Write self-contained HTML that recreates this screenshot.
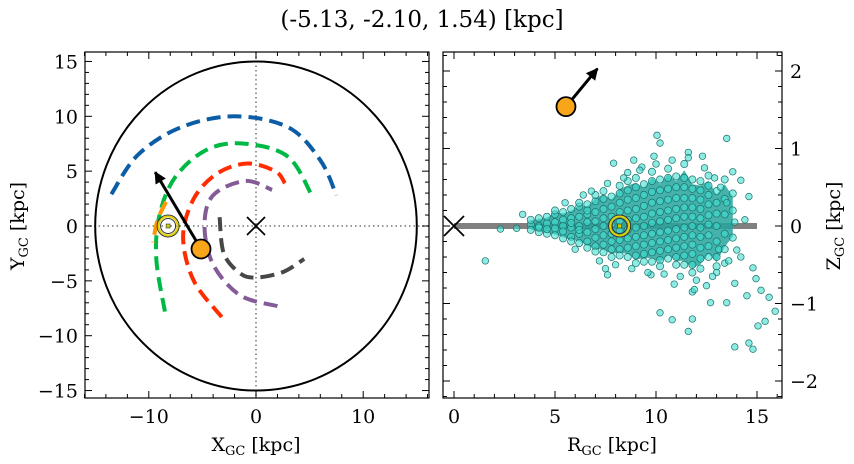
<!DOCTYPE html>
<html><head><meta charset="utf-8">
<style>
html,body{margin:0;padding:0;background:#fff;}
svg{display:block;font-family:"DejaVu Serif","Liberation Serif",serif;}
</style></head>
<body>
<svg id="fig" width="854" height="464" viewBox="0 0 854 464" xmlns="http://www.w3.org/2000/svg">
<text x="422" y="27" font-size="23" text-anchor="middle">(-5.13, -2.10, 1.54) [kpc]</text>
<g id="left"></g>
<g id="right"></g>
<text x="256" y="451" font-size="19" text-anchor="middle">X<tspan font-size="13" dy="4">GC</tspan><tspan dy="-4"> [kpc]</tspan></text>
<text transform="translate(24,226) rotate(-90)" font-size="19" text-anchor="middle">Y<tspan font-size="13" dy="4">GC</tspan><tspan dy="-4"> [kpc]</tspan></text>
<text x="612" y="451" font-size="19" text-anchor="middle">R<tspan font-size="13" dy="4">GC</tspan><tspan dy="-4"> [kpc]</tspan></text>
<text transform="translate(840,226) rotate(-90)" font-size="19" text-anchor="middle">Z<tspan font-size="13" dy="4">GC</tspan><tspan dy="-4"> [kpc]</tspan></text>
</svg>
<script>
// ---- data ----
const blueArcX=[-13.5,-11,-7,-2,3,6,7.5];
const blueArcY=[2.9,6.5,9,10,9,6,2.8];
const greenArcX=[-8.5,-9.3,-9,-7.5,-4.5,-1,3,5.3];
const greenArcY=[-7.8,-3,1,4.5,7,7.5,6.3,2.6];
const redArcX=[-3.2,-5.8,-6.8,-5.8,-3.6,-0.8,1.8,2.7];
const redArcY=[-8.3,-5,-1,2.5,4.8,5.7,5,3.9];
const purpleArcX=[2,-1.5,-4,-4.8,-4,-1,1.5];
const purpleArcY=[-7.3,-6.3,-3.5,0,2.8,4.1,3.3];
const grayArcX=[-3.4,-3,-1.5,0,2.5,4.5];
const grayArcY=[0.8,-2.5,-4.3,-4.7,-4.2,-3];
const orangeArcX=[-8.4,-9.2,-9.6];
const orangeArcY=[2.2,0.5,-1.5];
const starXYZ=[-5.13,-2.10,1.54];
const starArrowXY=[-9.4,4.9];
const starArrowRZ=[7.1,2.03];
const sunX=-8.2;
const diskRadius=15;
const xTicks=[-10,0,10];
const yTicks=[15,10,5,0,-5,-10,-15];
const rTicks=[0,5,10,15];
const zTicks=[2,1,0,-1,-2];
const cloudRows=[
[3.8,[0.02,-0.05,0.08]],
[4.2,[-0.08,0.0,0.1,-0.02]],
[4.6,[0.12,0.03,-0.1,-0.04]],
[5.0,[0.15,0.05,-0.03,-0.12,0.2]],
[5.4,[-0.16,0.08,0.0,0.18,-0.07]],
[5.8,[0.22,0.1,-0.02,-0.14,-0.2,0.04]],
[6.2,[0.25,0.12,0.0,-0.1,-0.22,0.3,-0.05]],
[6.6,[0.28,0.15,0.05,-0.08,-0.2,-0.28,0.2]],
[7.0,[0.32,0.18,0.06,-0.04,-0.15,-0.26,0.4,-0.33]],
[7.4,[0.35,0.22,0.1,0.0,-0.12,-0.24,-0.34,0.45]],
[7.8,[0.38,0.25,0.12,0.02,-0.1,-0.2,-0.3,-0.4]],
[8.2,[0.42,0.3,0.18,0.06,-0.06,-0.18,-0.3,-0.38,0.52]],
[8.6,[0.46,0.34,0.2,0.08,-0.05,-0.16,-0.28,-0.4,0.58]],
[9.0,[0.5,0.36,0.22,0.1,-0.02,-0.14,-0.26,-0.38,-0.48,0.62]],
[9.4,[0.54,0.4,0.26,0.12,0.0,-0.12,-0.24,-0.36,-0.46]],
[9.8,[0.58,0.44,0.3,0.16,0.04,-0.1,-0.22,-0.34,-0.46,0.7]],
[10.2,[0.6,0.46,0.32,0.18,0.06,-0.08,-0.2,-0.32,-0.44,-0.52]],
[10.6,[0.62,0.48,0.34,0.2,0.08,-0.06,-0.18,-0.3,-0.42,0.74]],
[11.0,[0.64,0.5,0.36,0.22,0.1,-0.04,-0.16,-0.28,-0.4,-0.5]],
[11.4,[0.62,0.5,0.36,0.24,0.12,-0.02,-0.14,-0.26,-0.38,-0.5,0.8]],
[11.8,[0.6,0.48,0.36,0.24,0.12,0.0,-0.12,-0.24,-0.36,-0.5,-0.6]],
[12.2,[0.58,0.46,0.34,0.22,0.1,-0.02,-0.14,-0.28,-0.42,-0.55]],
[12.6,[0.52,0.4,0.28,0.14,0.02,-0.12,-0.26,-0.4,0.65]],
[13.0,[0.45,0.3,0.16,0.0,-0.2,-0.4,-0.52]],
[13.4,[0.35,0.15,-0.1,-0.3,0.6]],
[13.8,[0.2,-0.15,0.42]]
];
const outlierR=[10.05,10.2,13.5,11.6,12.3,7.9,8.6,9.3,13.8,14.2,14.6,14.4,3.4,1.55,2.3,3.1,7.6,9.75,10.2,10.8,11.8,11.6,11.8,12.5,12.7,13.5,13.9,13.9,14.6,14.8,15.05,15.4,15.9,14.8,14.95,14.5,15.2,15.6,13,13.4,14,14.2,
5.5,6,6.8,7.2,7.6,8,8.4,8.8,9.2,9.6,10,10.4,10.8,11.2,11.6,12,12.4,12.8,13.2,13.6,12.9,11.9,10.9,9.9,8.9,7.5,6.4,13.5,13.9,13.1];
const outlierZ=[1.17,1.07,1.13,0.95,0.9,0.81,0.69,0.76,0.7,0.59,0.38,0.08,0.15,-0.45,-0.04,-0.03,-0.63,-0.63,-1.12,-1.21,-1.2,-1.36,-0.85,-0.77,-0.99,-0.99,-0.74,-1.56,-1.51,-1.59,-1.29,-1.23,-1.1,-0.54,-0.68,-0.9,-0.83,-0.92,-0.6,-0.48,-0.31,-0.4,
0.3,-0.3,0.45,-0.45,0.55,-0.5,0.62,-0.55,0.72,-0.6,0.8,-0.62,0.85,-0.65,0.88,-0.7,0.75,-0.65,0.5,-0.45,0.62,-0.82,-0.75,0.9,0.85,-0.55,0.4,0.3,0.05,-0.3];

// ---- helpers ----
const NS="http://www.w3.org/2000/svg";
function mk(parent,tag,attrs){const el=document.createElementNS(NS,tag);for(const k in attrs)el.setAttribute(k,attrs[k]);parent.appendChild(el);return el;}
const LX0=85,LX1=429,LY0=52,LY1=398;
const lx=v=>256+v*10.72, ly=v=>226-v*10.97;
const RX0=443,RX1=782;
const rx=v=>454+v*20.2, rz=v=>226-v*77.5;
const fmt=v=>v<0?'\u2212'+Math.abs(v):''+v;
function smoothPath(pts){
  let d='M'+pts[0][0].toFixed(1)+','+pts[0][1].toFixed(1);
  for(let i=0;i<pts.length-1;i++){
    const p0=pts[Math.max(0,i-1)],p1=pts[i],p2=pts[i+1],p3=pts[Math.min(pts.length-1,i+2)];
    const c1=[p1[0]+(p2[0]-p0[0])/6,p1[1]+(p2[1]-p0[1])/6];
    const c2=[p2[0]-(p3[0]-p1[0])/6,p2[1]-(p3[1]-p1[1])/6];
    d+=' C'+c1[0].toFixed(1)+','+c1[1].toFixed(1)+' '+c2[0].toFixed(1)+','+c2[1].toFixed(1)+' '+p2[0].toFixed(1)+','+p2[1].toFixed(1);
  }
  return d;
}
function cross(g,cx,cy,s,name){
  const c=mk(g,'g',{stroke:'#000','stroke-width':1.8});
  
  
  mk(c,'line',{x1:cx-s,y1:cy-s,x2:cx+s,y2:cy+s});
  mk(c,'line',{x1:cx-s,y1:cy+s,x2:cx+s,y2:cy-s});
}

// ---- left panel ----
const LP=document.getElementById('left');
const defs=mk(LP,'defs',{});
const cp=mk(defs,'clipPath',{id:'clipL'});mk(cp,'rect',{x:LX0,y:LY0,width:LX1-LX0,height:LY1-LY0});
const cp2=mk(defs,'clipPath',{id:'clipR'});mk(cp2,'rect',{x:RX0,y:LY0,width:RX1-RX0,height:LY1-LY0});
const mkr=mk(defs,'marker',{id:'ah',viewBox:'0 0 10 10',refX:'9',refY:'5',markerWidth:'4',markerHeight:'4',orient:'auto'});
mk(mkr,'path',{d:'M0,0 L10,5 L0,10 z',fill:'#000'});
const lg=mk(LP,'g',{'clip-path':'url(#clipL)'});
let e;
e=mk(lg,'line',{x1:LX0,x2:LX1,y1:ly(0),y2:ly(0),stroke:'#777','stroke-width':1.5,'stroke-dasharray':'1.5 3'});

e=mk(lg,'line',{x1:lx(0),x2:lx(0),y1:LY0,y2:LY1,stroke:'#777','stroke-width':1.5,'stroke-dasharray':'1.5 3'});

e=mk(lg,'ellipse',{cx:lx(0),cy:ly(0),rx:diskRadius*10.72,ry:diskRadius*10.97,fill:'none',stroke:'#000','stroke-width':2});

function arc(xs,ys,color,name){
  const d=smoothPath(xs.map((x,i)=>[lx(x),ly(ys[i])]));
  const p=mk(lg,'path',{d:d,fill:'none',stroke:color,'stroke-width':4,'stroke-dasharray':'14 7'});
  
  
}
arc(blueArcX,blueArcY,'#0c5da5','arc-blue');
arc(greenArcX,greenArcY,'#00b945','arc-green');
arc(redArcX,redArcY,'#ff2c00','arc-red');
arc(purpleArcX,purpleArcY,'#845b97','arc-purple');
arc(grayArcX,grayArcY,'#474747','arc-gray');
arc(orangeArcX,orangeArcY,'#ff9500','arc-orange');
cross(lg,lx(0),ly(0),9,'galactic-center');
function sun(g,cx,cy,name){
  const s=mk(g,'g',{});
  
  
  mk(s,'circle',{cx:cx,cy:cy,r:11,fill:'none',stroke:'#333','stroke-width':1});
  mk(s,'circle',{cx:cx,cy:cy,r:9.5,fill:'none',stroke:'#e0d000','stroke-width':2});
  mk(s,'circle',{cx:cx,cy:cy,r:7.5,fill:'none',stroke:'#333','stroke-width':1});
  mk(s,'rect',{x:cx-2,y:cy-2,width:4,height:4,fill:'#cc0',stroke:'#333','stroke-width':0.6});
}
sun(lg,lx(sunX),ly(0),'sun-marker');
e=mk(lg,'line',{x1:lx(starXYZ[0]),y1:ly(starXYZ[1]),x2:lx(starArrowXY[0]),y2:ly(starArrowXY[1]),stroke:'#000','stroke-width':3,'marker-end':'url(#ah)'});

e=mk(lg,'circle',{cx:lx(starXYZ[0]),cy:ly(starXYZ[1]),r:9.5,fill:'#f9a51a',stroke:'#000','stroke-width':1.8});


function frame(g,x0,x1,name){
  const r=mk(g,'rect',{x:x0,y:LY0,width:x1-x0,height:LY1-LY0,fill:'none',stroke:'#000','stroke-width':1.2});
  
  
}
function ticks(g,x0,x1,xf,xmin,xmax,xmaj,xminor,yf,ymin,ymax,yminor){
  for(let v=Math.ceil(xmin/xminor)*xminor;v<=xmax+1e-9;v+=xminor){
    const isM=xmaj.some(m=>Math.abs(m-v)<1e-6);const tl=isM?7:4;const X=xf(v);
    mk(g,'line',{x1:X,x2:X,y1:LY1,y2:LY1-tl,stroke:'#000','stroke-width':1});
    mk(g,'line',{x1:X,x2:X,y1:LY0,y2:LY0+tl,stroke:'#000','stroke-width':1});
  }
  return (ymaj)=>{
    for(let v=Math.ceil(ymin/yminor)*yminor;v<=ymax+1e-9;v+=yminor){
      const isM=ymaj.some(m=>Math.abs(m-v)<1e-6);const tl=isM?7:4;const Y=yf(v);
      mk(g,'line',{x1:x0,x2:x0+tl,y1:Y,y2:Y,stroke:'#000','stroke-width':1});
      mk(g,'line',{x1:x1,x2:x1-tl,y1:Y,y2:Y,stroke:'#000','stroke-width':1});
    }
  };
}
ticks(LP,LX0,LX1,lx,-16,16,xTicks,2,ly,-15.6,15.8,1)(yTicks);
frame(LP,LX0,LX1,'xy-axes-frame');
xTicks.forEach(v=>{const t=mk(LP,'text',{x:lx(v),y:423,'font-size':19,'text-anchor':'middle'});t.textContent=fmt(v);
  });
yTicks.forEach(v=>{const t=mk(LP,'text',{x:78,y:ly(v)+7,'font-size':19,'text-anchor':'end'});t.textContent=fmt(v);
  });

// ---- right panel ----
const RP=document.getElementById('right');
const rg=mk(RP,'g',{'clip-path':'url(#clipR)'});
e=mk(rg,'line',{x1:rx(0),x2:rx(15),y1:rz(0),y2:rz(0),stroke:'#808080','stroke-width':6});

const envTop=cloudRows.map(r=>[r[0],Math.max(...r[1])*0.9]);
const envBot=cloudRows.map(r=>[r[0],Math.min(...r[1])*0.9]).reverse();
const env=envTop.concat(envBot).map((p,i)=>(i?'L':'M')+rx(p[0]).toFixed(1)+','+rz(p[1]).toFixed(1)).join(' ')+'Z';
e=mk(rg,'path',{d:env,fill:'#25a59d','fill-opacity':0.85,stroke:'none'});

const sg=mk(rg,'g',{});


cloudRows.forEach(r=>r[1].forEach(z=>{
  const c=mk(sg,'circle',{cx:rx(r[0]),cy:rz(z),r:3.6,fill:'rgba(64,224,208,0.6)',stroke:'#1f6f6a','stroke-width':0.7});
  
  
}));
outlierR.forEach((v,i)=>{
  const c=mk(sg,'circle',{cx:rx(v),cy:rz(outlierZ[i]),r:3.3,fill:'rgba(64,224,208,0.6)',stroke:'#1f6f6a','stroke-width':0.7});
  
  
});
cross(rg,rx(0),rz(0),10,'galactic-center-rz');
sun(rg,rx(-sunX),rz(0),'sun-marker-rz');
const Rstar=Math.hypot(starXYZ[0],starXYZ[1]);
e=mk(rg,'line',{x1:rx(Rstar),y1:rz(starXYZ[2]),x2:rx(starArrowRZ[0]),y2:rz(starArrowRZ[1]),stroke:'#000','stroke-width':3,'marker-end':'url(#ah)'});

e=mk(rg,'circle',{cx:rx(Rstar),cy:rz(starXYZ[2]),r:9.5,fill:'#f9a51a',stroke:'#000','stroke-width':1.8});

ticks(RP,RX0,RX1,rx,-0.5,16.2,rTicks,1,rz,-2.2,2.24,0.2)(zTicks);
frame(RP,RX0,RX1,'rz-axes-frame');
rTicks.forEach(v=>{const t=mk(RP,'text',{x:rx(v),y:423,'font-size':19,'text-anchor':'middle'});t.textContent=fmt(v);
  });
zTicks.forEach(v=>{const t=mk(RP,'text',{x:790,y:rz(v)+7,'font-size':19,'text-anchor':'start'});t.textContent=fmt(v);
  });
</script>
</body></html>
